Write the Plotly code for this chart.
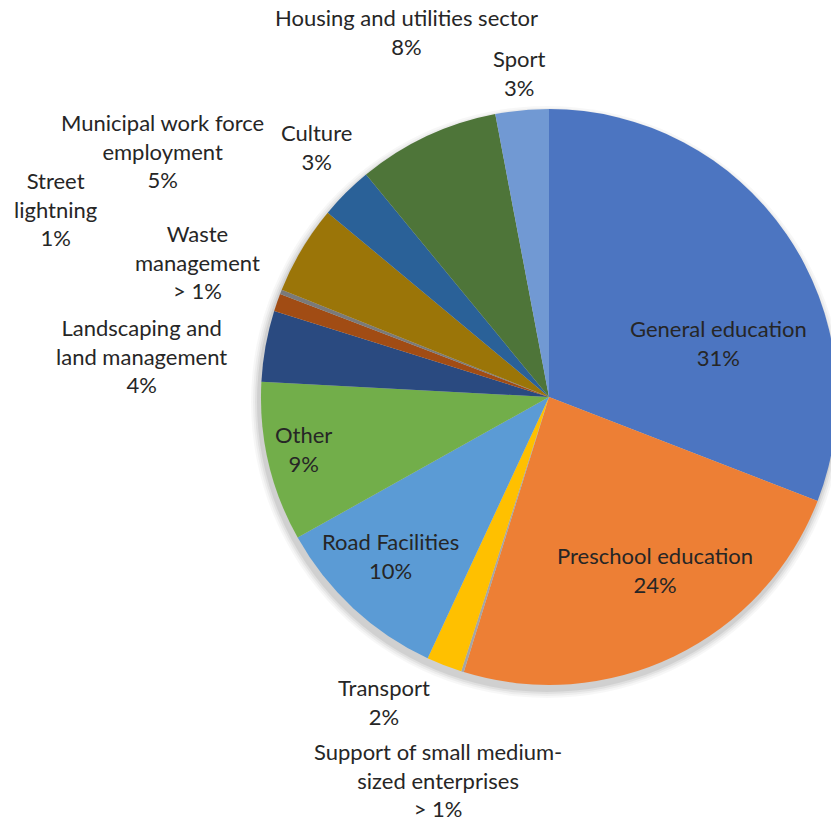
import plotly.graph_objects as go

# Budget shares by sector, in clockwise order starting at 12 o'clock
sectors = [
    "General education",
    "Preschool education",
    "Support of small medium-sized enterprises",
    "Transport",
    "Road Facilities",
    "Other",
    "Landscaping and land management",
    "Street lightning",
    "Waste management",
    "Municipal work force employment",
    "Culture",
    "Housing and utilities sector",
    "Sport",
]
shares = [31, 24, 0.15, 2, 10, 9, 4, 1, 0.25, 5, 3, 8, 3]
# label text as shown next to each slice (line breaks included)
label_lines = [
    "General education",
    "Preschool education",
    "Support of small medium-<br>sized enterprises",
    "Transport",
    "Road Facilities",
    "Other",
    "Landscaping and<br>land management",
    "Street<br>lightning",
    "Waste<br>management",
    "Municipal work force<br>employment",
    "Culture",
    "Housing and utilities sector",
    "Sport",
]
small_share_text = {2: "> 1%", 8: "> 1%"}
colors = [
    "#4C75C1", "#ED7F35", "#A5A5A5", "#FFC000", "#5B9BD5", "#72AE4A",
    "#2A4A80", "#A14C14", "#7A7A7A", "#9B7508", "#2A6198", "#4E7539",
    "#7199D3",
]

W, H = 900, 824
cx, cy, r = 549, 397, 288

# label anchor points (pixel centres of each text block)
label_pos = [
    (718, 343), (655, 570), (438, 780), (384, 702), (390, 556), (303, 449),
    (141, 356), (55, 209), (197, 262), (162, 151), (316, 147), (406, 32),
    (519, 73),
]

total = sum(shares)
pct_text = [
    small_share_text.get(i, f"{round(v / total * 100)}%")
    for i, v in enumerate(shares)
]

fig = go.Figure(
    go.Pie(
        labels=sectors,
        values=shares,
        sort=False,
        direction="clockwise",
        rotation=0,
        marker=dict(colors=colors, line=dict(width=0)),
        textinfo="none",
        hoverinfo="label+percent",
        showlegend=False,
        domain=dict(
            x=[(cx - r) / W, (cx + r) / W],
            y=[1 - (cy + r) / H, 1 - (cy - r) / H],
        ),
    )
)

# soft drop shadow under the pie
shapes = []
for grow, alpha in [(8, 0.03), (6, 0.04), (4, 0.05), (2, 0.07)]:
    sx, sy = cx - 2, cy + 5
    rr = r + grow
    shapes.append(
        dict(
            type="circle", xref="paper", yref="paper", layer="below",
            x0=(sx - rr) / W, x1=(sx + rr) / W,
            y0=1 - (sy + rr) / H, y1=1 - (sy - rr) / H,
            fillcolor=f"rgba(0,0,0,{alpha})", line=dict(width=0),
        )
    )

annotations = []
for text, pct, (px, py) in zip(label_lines, pct_text, label_pos):
    annotations.append(
        dict(
            text=f"{text}<br>{pct}",
            x=px / W, y=1 - py / H, xref="paper", yref="paper",
            xanchor="center", yanchor="middle", align="center",
            showarrow=False,
            font=dict(family="Lato", size=22, color="#262626"),
        )
    )

fig.update_layout(
    width=W, height=H,
    margin=dict(l=0, r=0, t=0, b=0),
    paper_bgcolor="white",
    plot_bgcolor="white",
    shapes=shapes,
    annotations=annotations,
)

fig.write_html(
    "out.html",
    post_script=(
        "document.body.style.margin='0';"
        "document.body.style.overflow='hidden';"
        "document.documentElement.style.overflow='hidden';"
    ),
)
